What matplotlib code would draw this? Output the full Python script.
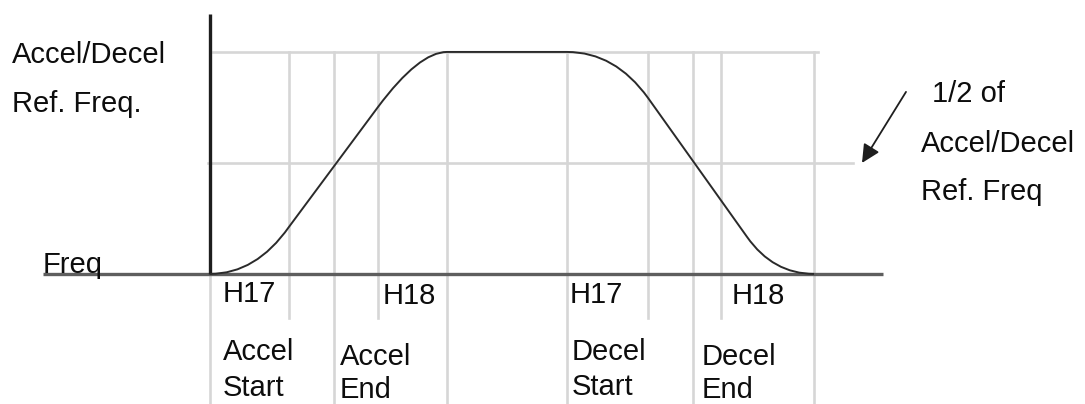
import matplotlib.pyplot as plt
from matplotlib.path import Path
from matplotlib.patches import PathPatch

plt.rcParams['font.family'] = ['Liberation Sans', 'DejaVu Sans']

# frequency levels (fraction of accel/decel reference frequency)
ref_freq = 1.0
half_freq = 0.5

# time markers for the S-curve segments
tall_marks = [0.0, 12.4, 23.7, 35.7, 48.3, 60.4]
short_marks = [7.9, 16.8, 43.8, 51.1]

# S-curve knots (time, freq) and path codes
curve_t = [0.0, 4.6, 7.9, 16.8, 20.9, 23.7, 35.7, 40.5, 43.8, 53.7, 56.3, 60.4]
curve_f = [0.0, 0.0, 0.212, 0.752, 1.0, 1.0, 1.0, 1.0, 0.793, 0.167, 0.0, 0.0]
curve_codes = [Path.MOVETO, Path.CURVE3, Path.CURVE3, Path.LINETO,
               Path.CURVE3, Path.CURVE3, Path.LINETO,
               Path.CURVE3, Path.CURVE3, Path.LINETO,
               Path.CURVE3, Path.CURVE3]

# labels under the time axis
param_labels = ["H17", "H18", "H17", "H18"]
param_t = [1.3, 17.3, 36.0, 52.2]
param_f = [-0.126, -0.135, -0.131, -0.135]

event_top = ["Accel", "Accel", "Decel", "Decel"]
event_bottom = ["Start", "End", "Start", "End"]
event_t = [1.3, 13.0, 36.2, 49.2]
event_top_f = [-0.388, -0.410, -0.388, -0.410]
event_bottom_f = [-0.550, -0.559, -0.546, -0.559]

fig = plt.figure(figsize=(10.85, 4.04), dpi=100)
ax = fig.add_axes([0, 0, 1, 1])
ax.set_xlim(-21.0, 87.5)
ax.set_ylim(-0.586, 1.234)
ax.axis('off')

grid_c = '#d6d6d6'
grid_lw = 1.9
bottom_f = -0.586
short_f = -0.198

# reference frequency lines
ax.plot([0.3, 60.8], [ref_freq, ref_freq], color=grid_c, lw=grid_lw, zorder=1)
ax.plot([-0.2, 64.3], [half_freq, half_freq], color=grid_c, lw=grid_lw, zorder=1)

# vertical time markers
for t in tall_marks:
    top = 0.0 if t == 0.0 else ref_freq
    ax.plot([t, t], [top, bottom_f], color=grid_c, lw=grid_lw, zorder=1)
for t in short_marks:
    ax.plot([t, t], [ref_freq, short_f], color=grid_c, lw=grid_lw, zorder=1)

# axes lines
ax.plot([-16.7, 67.3], [0, 0], color='#5e5e5e', lw=2.4, zorder=2, solid_capstyle='butt')
ax.plot([0, 0], [0, 1.171], color='#1e1e1e', lw=2.4, zorder=3, solid_capstyle='butt')

# S-curve
path = Path(list(zip(curve_t, curve_f)), curve_codes)
ax.add_patch(PathPatch(path, facecolor='none', edgecolor='#2a2a2a', lw=1.4, zorder=4))

fs = 21
tc = '#0d0d0d'
ax.text(-19.8, 0.950, "Accel/Decel", fontsize=fs, color=tc, va='baseline')
ax.text(-19.8, 0.730, "Ref. Freq.", fontsize=fs, color=tc, va='baseline')
ax.text(-16.7, 0.005, "Freq", fontsize=fs, color=tc, va='baseline')

for lab, t, f in zip(param_labels, param_t, param_f):
    ax.text(t, f, lab, fontsize=fs, color=tc, va='baseline')

for top, bot, t, f1, f2 in zip(event_top, event_bottom, event_t, event_top_f, event_bottom_f):
    ax.text(t, f1, top, fontsize=fs, color=tc, va='baseline')
    ax.text(t, f2, bot, fontsize=fs, color=tc, va='baseline')

# half-frequency note with arrow
ax.text(72.2, 0.775, "1/2 of", fontsize=fs, color=tc, va='baseline')
ax.text(71.1, 0.550, "Accel/Decel", fontsize=fs, color=tc, va='baseline')
ax.text(71.1, 0.333, "Ref. Freq", fontsize=fs, color=tc, va='baseline')
ax.annotate("", xy=(65.2, half_freq), xytext=(69.6, 0.820),
            arrowprops=dict(arrowstyle='-|>,head_length=0.55,head_width=0.27',
                            mutation_scale=20, lw=1.3,
                            color='#1e1e1e', shrinkA=0, shrinkB=0))

fig.savefig('out.png', dpi=100)
